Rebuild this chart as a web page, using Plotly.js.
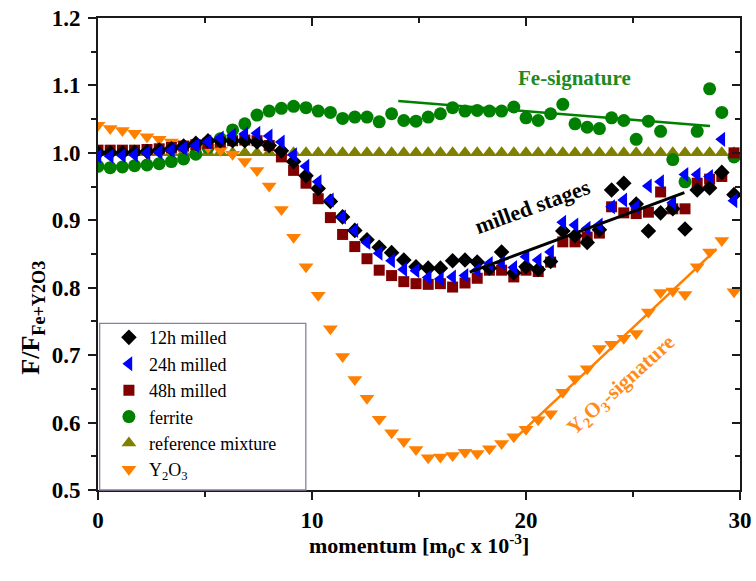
<!DOCTYPE html>
<html>
<head>
<meta charset="utf-8">
<script src="https://cdn.plot.ly/plotly-3.0.1.min.js"></script>
<style>html,body{margin:0;padding:0;background:#fff}#chart{width:756px;height:581px}</style>
</head>
<body>
<div id="chart"></div>
<script>
// momentum grid [m0c x 10^-3]
const momentum = [0, 0.57, 1.14, 1.71, 2.29, 2.86, 3.43, 4.00, 4.57, 5.14, 5.72, 6.29, 6.86, 7.43, 8.00, 8.57, 9.14, 9.72, 10.29, 10.86, 11.43, 12.00, 12.57, 13.14, 13.72, 14.29, 14.86, 15.43, 16.00, 16.57, 17.15, 17.72, 18.29, 18.86, 19.43, 20.00, 20.57, 21.15, 21.72, 22.29, 22.86, 23.43, 24.00, 24.57, 25.15, 25.72, 26.29, 26.86, 27.43, 28.00, 28.58, 29.15, 29.72];

const milled12h = [1.000, 1.000, 1.000, 1.001, 1.002, 1.004, 1.006, 1.010, 1.014, 1.018, 1.018, 1.018, 1.018, 1.016, 1.011, 1.003, 0.987, 0.966, 0.947, 0.928, 0.905, 0.885, 0.871, 0.860, 0.852, 0.841, 0.831, 0.829, 0.829, 0.840, 0.841, 0.838, 0.829, 0.853, 0.822, 0.831, 0.827, 0.839, 0.884, 0.877, 0.867, 0.886, 0.945, 0.955, 0.924, 0.884, 0.911, 0.917, 0.887, 0.945, 0.948, 0.971, 0.938];

const milled24h = [0.995, 0.995, 0.996, 0.997, 1.000, 1.001, 1.004, 1.007, 1.011, 1.016, 1.022, 1.026, 1.028, 1.029, 1.025, 1.016, 0.997, 0.980, 0.957, 0.930, 0.905, 0.885, 0.867, 0.851, 0.840, 0.827, 0.825, 0.815, 0.813, 0.816, 0.818, 0.826, 0.836, 0.837, 0.830, 0.846, 0.841, 0.853, 0.897, 0.893, 0.888, 0.893, 0.920, 0.930, 0.920, 0.951, 0.957, 0.926, 0.968, 0.968, 0.965, 1.020, 0.929];

const milled48h = [1.004, 1.004, 1.004, 1.004, 1.005, 1.006, 1.008, 1.010, 1.012, 1.014, 1.016, 1.018, 1.019, 1.018, 1.011, 0.994, 0.974, 0.955, 0.932, 0.904, 0.879, 0.861, 0.843, 0.826, 0.818, 0.809, 0.806, 0.805, 0.806, 0.801, 0.807, 0.814, 0.826, 0.826, 0.816, 0.826, 0.824, 0.838, 0.868, 0.868, 0.875, 0.881, 0.920, 0.911, 0.910, 0.912, 0.942, 0.917, 0.917, 0.955, 0.961, 0.965, 1.000];

const ferrite = [0.980, 0.978, 0.979, 0.981, 0.982, 0.984, 0.987, 0.991, 0.998, 1.008, 1.021, 1.034, 1.043, 1.056, 1.062, 1.066, 1.069, 1.067, 1.062, 1.060, 1.051, 1.053, 1.053, 1.046, 1.058, 1.048, 1.047, 1.053, 1.058, 1.067, 1.062, 1.063, 1.062, 1.062, 1.068, 1.052, 1.048, 1.058, 1.072, 1.043, 1.038, 1.036, 1.052, 1.048, 1.020, 1.047, 1.032, 0.990, 0.957, 1.032, 1.095, 1.060, 0.994];

const refMixture = [1.000, 1.000, 1.000, 1.000, 1.000, 1.000, 1.000, 1.000, 1.000, 1.000, 1.000, 1.000, 1.000, 1.000, 1.000, 1.000, 1.000, 1.000, 1.000, 1.000, 1.000, 1.000, 1.000, 1.000, 1.000, 1.000, 1.000, 1.000, 1.000, 1.000, 1.000, 1.000, 1.000, 1.000, 1.000, 1.000, 1.000, 1.000, 1.000, 1.000, 1.000, 1.000, 1.000, 1.000, 1.000, 1.000, 1.000, 1.000, 1.000, 1.000, 1.000, 1.000, 1.000];

const y2o3 = [1.041, 1.036, 1.033, 1.029, 1.024, 1.020, 1.016, 1.013, 1.011, 1.008, 1.004, 0.998, 0.987, 0.974, 0.951, 0.916, 0.875, 0.831, 0.789, 0.739, 0.698, 0.664, 0.636, 0.605, 0.585, 0.572, 0.560, 0.548, 0.549, 0.551, 0.556, 0.554, 0.561, 0.569, 0.579, 0.590, 0.604, 0.613, 0.645, 0.665, 0.680, 0.710, 0.716, 0.725, 0.732, 0.764, 0.793, 0.795, 0.790, 0.831, 0.853, 0.870, 0.794];

// linear guide lines (end points)
const feFitX = [14.03, 28.6];
const feFitY = [1.077, 1.040];
const milledFitX = [17.37, 27.4];
const milledFitY = [0.823, 0.941];
const y2o3FitX = [19.4, 28.9];
const y2o3FitY = [0.574, 0.857];

// tick labels
const xTicks = [0, 10, 20, 30];
const xTickText = ['0', '10', '20', '30'];

const serif = 'Liberation Serif, Times New Roman, serif';

const traces = [
  {name: 'reference mixture', x: momentum, y: refMixture, mode: 'markers', legendrank: 5,
   marker: {symbol: 'triangle-up', size: 13, color: '#808000', line: {width: 0}}},
  {name: 'ferrite', x: momentum, y: ferrite, mode: 'markers', legendrank: 4,
   marker: {symbol: 'circle', size: 13, color: '#008000', line: {width: 0}}},
  {name: 'Y<sub>2</sub>O<sub>3</sub>', x: momentum, y: y2o3, mode: 'markers', legendrank: 6,
   marker: {symbol: 'triangle-down', size: 13, color: '#ff8000', line: {width: 0}}},
  {name: '48h milled', x: momentum, y: milled48h, mode: 'markers', legendrank: 3,
   marker: {symbol: 'square', size: 11, color: '#800000', line: {width: 0}}},
  {name: '12h milled', x: momentum, y: milled12h, mode: 'markers', legendrank: 1,
   marker: {symbol: 'diamond', size: 12, color: '#000000', line: {width: 0}}},
  {name: '24h milled', x: momentum, y: milled24h, mode: 'markers', legendrank: 2,
   marker: {symbol: 'triangle-left', size: 13, color: '#0000ff', line: {width: 0}}},
  {x: feFitX, y: feFitY, mode: 'lines', showlegend: false, line: {color: '#008000', width: 2.5}},
  {x: milledFitX, y: milledFitY, mode: 'lines', showlegend: false, line: {color: '#000000', width: 3}},
  {x: y2o3FitX, y: y2o3FitY, mode: 'lines', showlegend: false, line: {color: '#ff8000', width: 2.5}},
  {x: [], y: [], xaxis: 'x2', yaxis: 'y2', showlegend: false, mode: 'markers'}
];

const axisCommon = {
  showline: true, linecolor: '#1a1a1a', linewidth: 2, showgrid: false, zeroline: false,
  tickcolor: '#1a1a1a', tickwidth: 2, ticklen: 8,
  tickfont: {family: serif, size: 23, weight: 'bold', color: '#000'}
};

const layout = {
  width: 756, height: 581,
  margin: {l: 98, r: 16, t: 18, b: 91},
  paper_bgcolor: '#fff', plot_bgcolor: '#fff',
  showlegend: true,
  xaxis: Object.assign({}, axisCommon, {
    range: [0, 30], tickmode: 'array', tickvals: xTicks, ticktext: xTickText, ticks: 'outside',
    minor: {tickvals: [5, 15, 25], ticks: 'outside', ticklen: 5, tickwidth: 2, tickcolor: '#1a1a1a', showgrid: false}
  }),
  yaxis: Object.assign({}, axisCommon, {
    range: [0.5, 1.2], dtick: 0.1, tick0: 0.5, tickformat: '.1f', ticks: 'outside', ticklabelstandoff: 3,
    minor: {dtick: 0.05, ticks: 'outside', ticklen: 5, tickwidth: 2, tickcolor: '#1a1a1a', showgrid: false}
  }),
  xaxis2: Object.assign({}, axisCommon, {
    overlaying: 'x', side: 'top', range: [0, 30], dtick: 10, tick0: 0, ticks: 'inside', showticklabels: false,
    minor: {dtick: 5, ticks: 'inside', ticklen: 5, tickwidth: 2, tickcolor: '#1a1a1a', showgrid: false}
  }),
  yaxis2: Object.assign({}, axisCommon, {
    overlaying: 'y', side: 'right', range: [0.5, 1.2], dtick: 0.1, tick0: 0.5, ticks: 'inside', showticklabels: false,
    minor: {dtick: 0.05, ticks: 'inside', ticklen: 5, tickwidth: 2, tickcolor: '#1a1a1a', showgrid: false}
  }),
  legend: {
    x: 0.017, y: 0.362, xanchor: 'left', yanchor: 'top',
    bgcolor: 'rgba(0,0,0,0)', borderwidth: 0,
    font: {family: serif, size: 18, color: '#000'},
    traceorder: 'normal'
  },
  shapes: [
    {type: 'rect', xref: 'paper', yref: 'paper', x0: 0.0026, x1: 0.3237, y0: 0, y1: 0.353,
     line: {color: '#8e7fa0', width: 1.3}, fillcolor: 'rgba(0,0,0,0)'}
  ],
  annotations: [
    {xref: 'paper', yref: 'paper', x: 0.5, y: -0.117, xanchor: 'center', yanchor: 'middle', showarrow: false,
     text: 'momentum [m<sub>0</sub>c x 10<sup>-3</sup>]',
     font: {family: serif, size: 22, weight: 'bold', color: '#000'}},
    {xref: 'paper', yref: 'paper', x: -0.102, y: 0.364, xanchor: 'center', yanchor: 'middle', showarrow: false, textangle: -90,
     text: 'F/F<sub>Fe+Y2O3</sub>',
     font: {family: serif, size: 26, weight: 'bold', color: '#000'}},
    {x: 22.28, y: 1.111, showarrow: false, text: 'Fe-signature',
     font: {family: serif, size: 21, weight: 'bold', color: '#1e8a1e'}},
    {x: 20.3, y: 0.921, showarrow: false, text: 'milled stages', textangle: -20,
     font: {family: serif, size: 22, weight: 'bold', color: '#000'}},
    {x: 24.48, y: 0.655, showarrow: false, text: 'Y<sub>2</sub>O<sub>3</sub>-signature', textangle: -42,
     font: {family: serif, size: 21, weight: 'bold', color: '#ff8c1a'}}
  ]
};

Plotly.newPlot('chart', traces, layout, {displayModeBar: false, staticPlot: true});
</script>
</body>
</html>
